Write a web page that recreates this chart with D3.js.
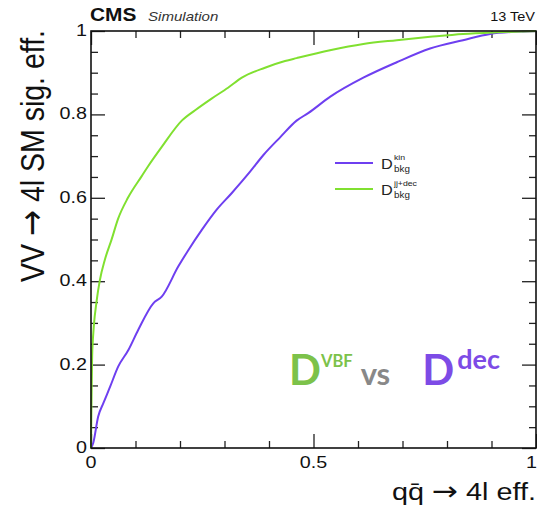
<!DOCTYPE html>
<html>
<head>
<meta charset="utf-8">
<script src="https://cdn.jsdelivr.net/npm/d3@7"></script>
<style>
  html, body { margin: 0; padding: 0; background: #fff; }
  svg { display: block; font-family: "Liberation Sans", Arial, Helvetica, sans-serif; }
</style>
</head>
<body>
<svg id="chart" width="537" height="507"></svg>
<script>
// ROC curves: background (qq -> 4l) efficiency vs. VV -> 4l signal efficiency
const kinBkgEff = [0, 0.005, 0.016, 0.028, 0.043, 0.061, 0.084, 0.106, 0.14, 0.159, 0.196, 0.219, 0.249, 0.282, 0.316, 0.357, 0.387, 0.425, 0.462, 0.488, 0.537, 0.612, 0.687, 0.762, 0.836, 0.897, 0.95, 1.0];
const kinSigEff = [0, 0.012, 0.075, 0.108, 0.147, 0.195, 0.235, 0.283, 0.347, 0.363, 0.435, 0.475, 0.523, 0.571, 0.611, 0.662, 0.702, 0.745, 0.785, 0.803, 0.842, 0.888, 0.925, 0.958, 0.978, 0.993, 0.998, 1.0];

const jjdecBkgEff = [0, 0.001, 0.003, 0.013, 0.02, 0.031, 0.046, 0.061, 0.083, 0.114, 0.128, 0.159, 0.204, 0.234, 0.271, 0.308, 0.339, 0.391, 0.436, 0.462, 0.537, 0.612, 0.687, 0.762, 0.836, 0.912, 1.0];
const jjdecSigEff = [0, 0.1, 0.235, 0.355, 0.403, 0.451, 0.499, 0.55, 0.6, 0.652, 0.675, 0.722, 0.785, 0.81, 0.838, 0.864, 0.888, 0.912, 0.928, 0.935, 0.954, 0.969, 0.978, 0.986, 0.993, 0.997, 1.0];

const xMajorTicks = [0, 0.5, 1];
const xTickLabels = ["0", "0.5", "1"];
const yMajorTicks = [0, 0.2, 0.4, 0.6, 0.8, 1];
const yTickLabels = ["0", "0.2", "0.4", "0.6", "0.8", "1"];

const series = [
  { name: "kin", sup: "kin", color: "#6e3ff0", x: kinBkgEff, y: kinSigEff },
  { name: "jjdec", sup: "jj+dec", color: "#80e030", x: jjdecBkgEff, y: jjdecSigEff }
];

const svg = d3.select("#chart");
const L = 91, R = 536, T = 31, B = 448;
const SX = 1.16; // horizontal widening of the canvas text
const x = d3.scaleLinear().domain([0, 1]).range([L, R]);
const y = d3.scaleLinear().domain([0, 1]).range([B, T]);

// Helper: text placed at (px, py) and widened horizontally
function wideText(parent, px, py, sx) {
  return parent.append("text")
    .attr("transform", `translate(${px},${py}) scale(${sx || SX},1)`);
}

// Minor and major ticks on all four sides, pointing inward
const xMinor = d3.range(0, 1.0001, 0.1).map(v => +v.toFixed(2));
const yMinor = d3.range(0, 1.0001, 0.05).map(v => +v.toFixed(2));
const isMajor = (arr, v) => arr.some(m => Math.abs(m - v) < 1e-6);

const frame = svg.append("g");
const gB = svg.append("g").attr("transform", `translate(0,${B})`).call(d3.axisTop(x).tickValues(xMinor).tickFormat("").tickSizeOuter(0).tickSizeInner(7));
const gT = svg.append("g").attr("transform", `translate(0,${T})`).call(d3.axisBottom(x).tickValues(xMinor).tickFormat("").tickSizeOuter(0).tickSizeInner(7));
const gL = svg.append("g").attr("transform", `translate(${L},0)`).call(d3.axisRight(y).tickValues(yMinor).tickFormat("").tickSizeOuter(0).tickSizeInner(7));
const gR = svg.append("g").attr("transform", `translate(${R},0)`).call(d3.axisLeft(y).tickValues(yMinor).tickFormat("").tickSizeOuter(0).tickSizeInner(7));
[gB, gT, gL, gR].forEach(g => {
  g.select(".domain").remove();
  g.selectAll("line").attr("stroke", "#222").attr("stroke-width", 1.3);
});
gB.selectAll(".tick line").filter(d => isMajor(xMajorTicks, d)).attr("y2", -14);
gT.selectAll(".tick line").filter(d => isMajor(xMajorTicks, d)).attr("y2", 14);
gL.selectAll(".tick line").filter(d => isMajor(yMajorTicks, d)).attr("x2", 14);
gR.selectAll(".tick line").filter(d => isMajor(yMajorTicks, d)).attr("x2", -14);

// Tick labels
const tickG = svg.append("g").attr("fill", "#111").attr("font-size", 17);
xMajorTicks.forEach((d, i) => {
  wideText(tickG, d === 1 ? 537 : x(d), 468)
    .attr("text-anchor", d === 1 ? "end" : "middle").text(xTickLabels[i]);
});
yMajorTicks.forEach((d, i) => {
  wideText(tickG, 87, y(d) + 5).attr("text-anchor", "end").text(yTickLabels[i]);
});

// Curves
const line = d3.line().x(d => x(d[0])).y(d => y(d[1])).curve(d3.curveMonotoneX);
const plot = svg.append("g");
series.forEach(s => {
  plot.append("path")
    .datum(s.x.map((v, i) => [v, s.y[i]]))
    .attr("d", line)
    .attr("fill", "none")
    .attr("stroke", s.color)
    .attr("stroke-width", 2)
    .attr("stroke-linejoin", "round");
});

// Frame
frame.append("rect").attr("x", L).attr("y", T).attr("width", R - L).attr("height", B - T)
  .attr("fill", "none").attr("stroke", "#111").attr("stroke-width", 1.6);
frame.raise();

// Legend
const leg = svg.append("g").attr("fill", "#222");
series.forEach((s, i) => {
  const ly = 163 + i * 26;
  leg.append("line").attr("x1", 335).attr("x2", 373).attr("y1", ly).attr("y2", ly)
    .attr("stroke", s.color).attr("stroke-width", 2);
  wideText(leg, 381, ly + 6).attr("font-size", 14).text("D");
  wideText(leg, 394, ly - 3).attr("font-size", 7.5).text(s.sup);
  wideText(leg, 394, ly + 9).attr("font-size", 8.5).text("bkg");
});

// Header
wideText(svg, 90, 21).attr("font-size", 18).attr("font-weight", "bold").attr("fill", "#111").text("CMS");
wideText(svg, 148, 21).attr("font-size", 13).attr("font-style", "italic").attr("fill", "#333").text("Simulation");
wideText(svg, 535, 21).attr("font-size", 12.5).attr("text-anchor", "end").attr("fill", "#111").text("13 TeV");

// Axis titles (arrow drawn in DejaVu Sans for a full-width glyph)
const xt = wideText(svg, 536, 500, 1.2).attr("text-anchor", "end").attr("font-size", 24).attr("fill", "#111");
xt.append("tspan").text("qq\u0304 ");
xt.append("tspan").attr("font-family", "DejaVu Sans").attr("font-size", 26).text("\u2192");
xt.append("tspan").text(" 4l eff.");

const yt = svg.append("text").attr("transform", `translate(44,30) scale(${SX},1) rotate(-90)`)
  .attr("text-anchor", "end").attr("font-size", 28.5).attr("fill", "#111");
yt.append("tspan").text("VV ");
yt.append("tspan").attr("font-family", "DejaVu Sans").attr("font-size", 31).text("\u2192");
yt.append("tspan").text(" 4l SM sig. eff.");

// Discriminant comparison label
const ann = svg.append("text").attr("x", 289).attr("y", 385).attr("font-family", "Lato, 'Open Sans', sans-serif").attr("font-weight", "bold");
ann.append("tspan").attr("font-size", 42).attr("fill", "#7cc24a").text("D");
ann.append("tspan").attr("font-size", 16.5).attr("fill", "#7cc24a").attr("dy", -18).text("VBF");
ann.append("tspan").attr("font-size", 31).attr("fill", "#888").attr("dy", 18).attr("dx", 8).text("vs");
ann.append("tspan").attr("font-size", 42).attr("fill", "#7d4be6").attr("dx", 32).text("D");
ann.append("tspan").attr("font-size", 27).attr("fill", "#7d4be6").attr("dy", -16).attr("dx", 3).text("dec");
</script>
</body>
</html>
